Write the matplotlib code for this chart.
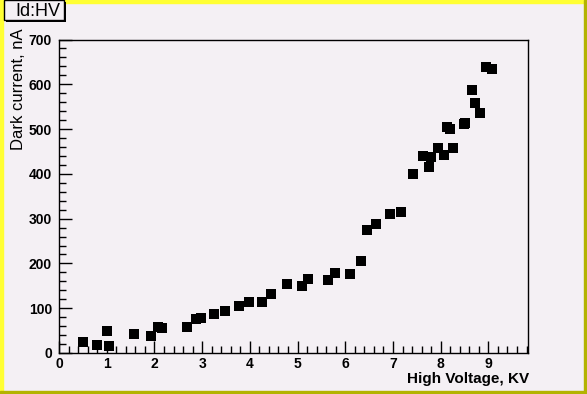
import matplotlib
matplotlib.use("Agg")
import matplotlib.pyplot as plt
from matplotlib.patches import Rectangle
from matplotlib.ticker import MultipleLocator

plt.rcParams['font.family'] = ['Liberation Sans', 'DejaVu Sans']

# Datos (HV en kV, corriente en nA)
hv = [0.50, 0.79, 1.00, 1.05, 1.57, 1.93, 2.07, 2.16, 2.68, 2.87, 2.97, 3.24,
      3.47, 3.77, 3.98, 4.25, 4.44, 4.77, 5.09, 5.22, 5.64, 5.79, 6.09, 6.32,
      6.45, 6.64, 6.93, 7.17, 7.43, 7.62, 7.75, 7.79, 7.94, 8.06, 8.13, 8.19,
      8.25, 8.48, 8.51, 8.65, 8.71, 8.82, 8.96, 9.08]
dark = [25, 18, 50, 16, 43, 38, 58, 56, 57, 76, 78, 86,
        94, 106, 114, 114, 132, 153, 150, 166, 164, 179, 177, 206,
        275, 289, 311, 315, 400, 440, 416, 438, 458, 443, 505, 501,
        458, 512, 513, 588, 559, 536, 639, 635]

bg = "#f4f0f4"
W, H = 587, 394
fig = plt.figure(figsize=(W / 100, H / 100), dpi=100)
fig.patch.set_facecolor(bg)

def px_rect(x0, y0, w, h, **kw):
    # rectángulo en píxeles desde arriba-izquierda
    return Rectangle((x0 / W, 1 - (y0 + h) / H), w / W, h / H,
                     transform=fig.transFigure, **kw)

# Borde del canvas estilo ROOT
b = 3
fig.patches.extend([
    px_rect(0, 0, b, H, color="#ffff33", zorder=0),
    px_rect(0, 0, W, b, color="#ffff33", zorder=0),
    px_rect(W - b, 0, b, H, color="#b3b300", zorder=0),
    px_rect(0, H - b, W, b, color="#b3b300", zorder=0),
])

ax = fig.add_axes([59 / W, 41 / H, (528 - 59) / W, (353 - 39.5) / H])
ax.set_facecolor(bg)
ax.plot(hv, dark, "s", color="black", markersize=7, markeredgewidth=0)

ax.set_xlim(0, 9.83)
ax.set_ylim(0, 700)
ax.xaxis.set_major_locator(MultipleLocator(1))
ax.xaxis.set_minor_locator(MultipleLocator(0.2))
ax.yaxis.set_major_locator(MultipleLocator(100))
ax.yaxis.set_minor_locator(MultipleLocator(20))
ax.tick_params(which="both", direction="in", top=False, right=False, colors="black")
ax.tick_params(which="major", length=9, width=1)
ax.tick_params(which="minor", length=5, width=1)
ax.tick_params(axis="x", labelsize=10, pad=3)
ax.tick_params(axis="y", labelsize=10, pad=5)
for lbl in ax.get_xticklabels() + ax.get_yticklabels():
    lbl.set_fontweight("bold")
for s in ax.spines.values():
    s.set_linewidth(1)

fig.text(529 / W, 1 - 383 / H, "High Voltage, KV", fontsize=11, fontweight="bold",
         ha="right", va="baseline")
fig.text(19 / W, 1 - 28 / H, "Dark current, nA", fontsize=12, rotation=90,
         ha="center", va="top")

# Caja de título con sombra
fig.patches.append(px_rect(6, 2, 60, 20, facecolor="black", edgecolor="none", zorder=1))
fig.patches.append(px_rect(4, 0, 60, 20, facecolor=bg, edgecolor="black", linewidth=1, zorder=2))
fig.text(15 / W, 1 - 11.5 / H, "Id:HV", fontsize=13, va="center", ha="left", zorder=3)

fig.savefig("out.png", dpi=100, facecolor=bg)
